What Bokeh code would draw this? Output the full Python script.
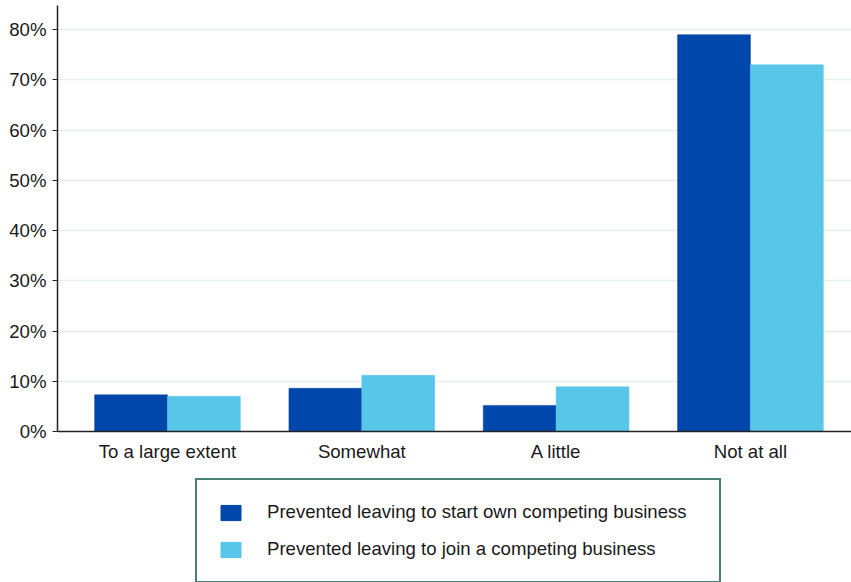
from bokeh.plotting import figure
from bokeh.layouts import column
from bokeh.models import (ColumnDataSource, Range1d, FixedTicker, PrintfTickFormatter,
                          Legend, LegendItem)
from bokeh.transform import dodge
from bokeh.embed import file_html
from bokeh.resources import INLINE
import numpy as np

categories = ["To a large extent", "Somewhat", "A little", "Not at all"]
own_business = [7.3, 8.6, 5.2, 79.0]
join_business = [7.0, 11.2, 8.9, 73.0]
series_names = ["Prevented leaving to start own competing business",
                "Prevented leaving to join a competing business"]
y_ticks = [0, 10, 20, 30, 40, 50, 60, 70, 80]

DARK = "#0047AB"
LIGHT = "#58C6E9"
FONT = "Liberation Sans"
FS = "18.6px"

centers = list(np.arange(len(categories)) + 0.5)
src = ColumnDataSource(dict(x=centers, own=own_business, join=join_business))

p = figure(width=851, height=465, output_backend="svg", toolbar_location=None,
           x_range=Range1d(-0.066, 4.02), y_range=Range1d(0, 84.8),
           min_border_left=57, min_border_right=0, min_border_top=5, min_border_bottom=34)
p.outline_line_color = None
p.background_fill_color = "white"
p.border_fill_color = "white"

bw = 0.375
p.vbar(x=dodge("x", -bw / 2), top="own", width=bw, source=src,
       fill_color=DARK, line_color=DARK, line_width=0.5)
p.vbar(x=dodge("x", bw / 2), top="join", width=bw, source=src,
       fill_color=LIGHT, line_color=LIGHT, line_width=0.5)

p.xaxis.ticker = FixedTicker(ticks=centers)
p.xaxis.major_label_overrides = {float(c): lab for c, lab in zip(centers, categories)}
p.xaxis.major_tick_line_color = None
p.xaxis.minor_tick_line_color = None
p.xaxis.major_tick_out = 0
p.xaxis.major_label_standoff = 9
p.xaxis.axis_line_color = "#222222"
p.xaxis.axis_line_width = 1.5

p.yaxis.ticker = FixedTicker(ticks=y_ticks)
p.yaxis.formatter = PrintfTickFormatter(format="%d%%")
p.yaxis.major_tick_out = 5
p.yaxis.major_tick_in = 0
p.yaxis.minor_tick_line_color = None
p.yaxis.major_label_standoff = 6
p.yaxis.axis_line_color = "#222222"
p.yaxis.axis_line_width = 1.5
p.yaxis.major_tick_line_color = "#222222"

for ax in (p.xaxis, p.yaxis):
    ax.major_label_text_font = FONT
    ax.major_label_text_font_size = FS
    ax.major_label_text_color = "#1a1a1a"

p.xgrid.grid_line_color = None
p.ygrid.grid_line_color = "#E6EEF0"
p.ygrid.grid_line_width = 1.5
p.ygrid.ticker = FixedTicker(ticks=y_ticks)

# legend panel (separate figure below the chart)
lp = figure(width=851, height=117, output_backend="svg", toolbar_location=None,
            x_range=Range1d(0, 1), y_range=Range1d(0, 1),
            x_axis_type=None, y_axis_type=None,
            min_border_left=0, min_border_right=0, min_border_top=0, min_border_bottom=0)
lp.outline_line_color = None
lp.xgrid.grid_line_color = None
lp.ygrid.grid_line_color = None
lp.border_fill_color = "white"
k1 = lp.vbar(x="x", top="own", width=bw, source=src,
             fill_color=DARK, line_color=DARK, visible=False)
k2 = lp.vbar(x="x", top="join", width=bw, source=src,
             fill_color=LIGHT, line_color=LIGHT, visible=False)

legend = Legend(items=[LegendItem(label=series_names[0], renderers=[k1]),
                       LegendItem(label=series_names[1], renderers=[k2])],
                location=(138, -1), orientation="vertical")
legend.label_text_font = FONT
legend.label_text_font_size = FS
legend.label_text_color = "#1a1a1a"
legend.glyph_width = 25
legend.glyph_height = 19
legend.label_height = 22
legend.label_width = 431
legend.label_standoff = 24
legend.spacing = 15
legend.padding = 21
legend.margin = 0
legend.border_line_color = "#4A7F72"
legend.border_line_alpha = 1.0
legend.border_line_width = 2
legend.click_policy = "none"
lp.add_layout(legend, "center")

layout = column(p, lp, spacing=0)
open("out.html", "w").write(file_html(layout, INLINE))
